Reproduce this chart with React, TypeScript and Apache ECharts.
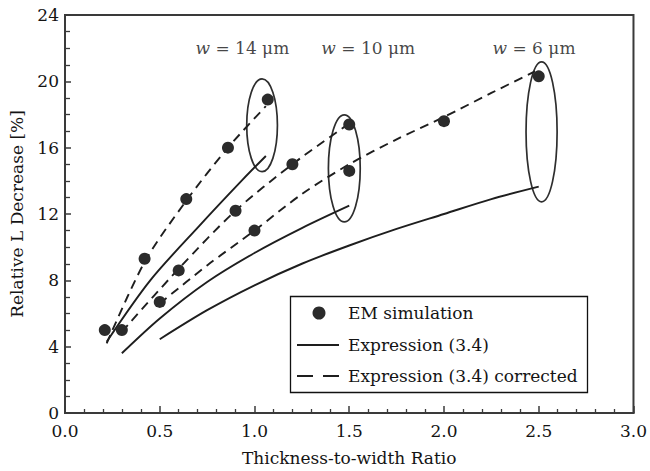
import React, { useEffect, useRef } from "react";
import * as echarts from "echarts";

// EM simulation results, one list per line width [thickness/width, relative L decrease %]
const simW14: number[][] = [[0.21, 5.0], [0.42, 9.3], [0.64, 12.9], [0.86, 16.0], [1.07, 18.9]];
const simW10: number[][] = [[0.3, 5.0], [0.6, 8.6], [0.9, 12.2], [1.2, 15.0], [1.5, 17.4]];
const simW6: number[][] = [[0.5, 6.7], [1.0, 11.0], [1.5, 14.6], [2.0, 17.6], [2.5, 20.3]];

// Expression (3.4)
const expr14: number[][] = [[0.22, 4.3], [0.45, 8.0], [0.71, 11.3], [0.94, 14.1], [1.06, 15.5]];
const expr10: number[][] = [[0.3, 3.6], [0.5, 5.7], [0.75, 7.9], [1.0, 9.65], [1.25, 11.15], [1.5, 12.5]];
const expr6: number[][] = [
  [0.5, 4.45], [0.75, 6.2], [1.0, 7.7], [1.25, 9.0], [1.5, 10.1],
  [1.75, 11.1], [2.0, 12.0], [2.25, 12.9], [2.5, 13.65],
];

// Expression (3.4) corrected
const corr14: number[][] = [[0.22, 4.2], [0.42, 9.1], [0.64, 12.8], [0.86, 16.0], [1.06, 18.5]];
const corr10: number[][] = [[0.3, 4.9], [0.6, 8.7], [0.9, 12.2], [1.2, 15.0], [1.48, 17.3]];
const corr6: number[][] = [
  [0.5, 6.6], [0.75, 8.9], [1.0, 11.0], [1.25, 13.2], [1.5, 15.0],
  [1.75, 16.5], [2.0, 17.85], [2.25, 19.3], [2.48, 20.6],
];

// Ellipses grouping the end of each width family: [cx, cy, rx, ry] in data units
const groupEllipses: number[][] = [
  [1.04, 17.35, 0.081, 2.8],
  [1.474, 14.75, 0.084, 3.23],
  [2.515, 16.95, 0.082, 4.22],
];

// Width labels above each family
const widthLabels = ["14", "10", "6"];
const widthLabelPos: number[][] = [[0.936, 22.0], [1.6, 22.0], [2.475, 22.0]];

const SIM = "EM simulation";
const EXPR = "Expression (3.4)";
const CORR = "Expression (3.4) corrected";
const legendNames = [SIM, EXPR, CORR];

const FONT = "DejaVu Serif";
const INK = "#141414";
const AXIS = "#3a3a3a";
const LINE = "#1e1e1e";
const DOT = "#2b2b2b";
const DASH = [9, 6];

export default function App() {
  const ref = useRef<HTMLDivElement>(null);

  useEffect(() => {
    document.body.style.margin = "0";
    if (!ref.current) return;
    const chart = echarts.init(ref.current, null, { renderer: "svg" });

    const lineSeries = (name: string, data: number[][], dashed: boolean) => ({
      type: "line",
      name,
      data,
      symbol: "none",
      smooth: 0.3,
      lineStyle: { color: LINE, width: 1.9, type: dashed ? DASH : "solid" },
      itemStyle: { color: LINE },
      z: 3,
    });

    // Boxed key in the lower right of the plot
    const lx = 290;
    const ly = 296;
    const rowY = [313, 345, 376];
    const key: any[] = [
      {
        type: "rect",
        shape: { x: lx + 0.5, y: ly + 0.5, width: 297, height: 96 },
        style: { fill: "#fff", stroke: "#111", lineWidth: 1.3 },
      },
      { type: "circle", shape: { cx: 319, cy: rowY[0], r: 6.5 }, style: { fill: DOT } },
      {
        type: "line",
        shape: { x1: 297, y1: rowY[1], x2: 339, y2: rowY[1] },
        style: { stroke: LINE, lineWidth: 1.9 },
      },
      {
        type: "line",
        shape: { x1: 297, y1: rowY[2], x2: 339, y2: rowY[2] },
        style: { stroke: LINE, lineWidth: 1.9, lineDash: [16, 10] },
      },
      ...legendNames.map((n, i) => ({
        type: "text",
        x: 348,
        y: rowY[i],
        style: {
          text: n,
          fill: INK,
          font: `17px "${FONT}"`,
          verticalAlign: "middle",
          align: "left",
        },
      })),
    ];

    chart.setOption({
      animation: false,
      textStyle: { fontFamily: FONT, color: INK },
      grid: {
        left: 64,
        right: 13,
        top: 15,
        bottom: 58,
        show: true,
        borderColor: AXIS,
        borderWidth: 2,
      },
      xAxis: {
        type: "value",
        min: 0,
        max: 3,
        interval: 0.5,
        name: "Thickness-to-width Ratio",
        nameLocation: "middle",
        nameGap: 36,
        nameTextStyle: { fontSize: 17, color: INK, fontFamily: FONT },
        axisLine: { lineStyle: { color: AXIS, width: 2 } },
        axisTick: { inside: true, length: 7, lineStyle: { color: AXIS, width: 1.5 } },
        minorTick: { show: true, splitNumber: 5, length: 4, lineStyle: { color: AXIS, width: 1.3 } },
        axisLabel: {
          fontSize: 17,
          color: INK,
          fontFamily: FONT,
          margin: 9,
          formatter: (v: number) => v.toFixed(1),
        },
        splitLine: { show: false },
      },
      yAxis: {
        type: "value",
        min: 0,
        max: 24,
        interval: 4,
        name: "Relative L Decrease [%]",
        nameLocation: "middle",
        nameGap: 40,
        nameTextStyle: { fontSize: 17, color: INK, fontFamily: FONT },
        axisLine: { lineStyle: { color: AXIS, width: 2 } },
        axisTick: { inside: true, length: 6, lineStyle: { color: AXIS, width: 1.5 } },
        minorTick: { show: true, splitNumber: 4, length: 5, lineStyle: { color: AXIS, width: 1.3 } },
        axisLabel: { fontSize: 17, color: INK, fontFamily: FONT, margin: 6 },
        splitLine: { show: false },
      },
      graphic: { elements: key.map((el) => ({ ...el, z: 100 })) },
      series: [
        lineSeries(EXPR, expr14, false),
        lineSeries(EXPR, expr10, false),
        lineSeries(EXPR, expr6, false),
        lineSeries(CORR, corr14, true),
        lineSeries(CORR, corr10, true),
        lineSeries(CORR, corr6, true),
        {
          type: "scatter",
          name: SIM,
          data: [...simW14, ...simW10, ...simW6],
          symbol: "circle",
          symbolSize: 12,
          itemStyle: { color: DOT, opacity: 1 },
          z: 4,
        },
        {
          type: "custom",
          name: "groups",
          data: groupEllipses,
          clip: false,
          z: 2,
          renderItem: (_params: any, api: any) => {
            const c = api.coord([api.value(0), api.value(1)]);
            const e = api.coord([api.value(0) + api.value(2), api.value(1) + api.value(3)]);
            return {
              type: "ellipse",
              shape: { cx: c[0], cy: c[1], rx: e[0] - c[0], ry: c[1] - e[1] },
              style: { fill: "none", stroke: "#2e2e2e", lineWidth: 1.7 },
            };
          },
        },
        {
          type: "scatter",
          name: "widths",
          symbolSize: 1,
          itemStyle: { color: "transparent" },
          data: widthLabels.map((w, i) => ({ name: w, value: widthLabelPos[i] })),
          label: {
            show: true,
            position: "inside",
            fontSize: 17,
            color: INK,
            fontFamily: FONT,
            formatter: (p: any) => `{i|w} = ${p.name} μm`,
            rich: { i: { fontStyle: "italic", fontSize: 17, fontFamily: FONT, color: INK } },
          },
          z: 5,
        },
      ],
    });

    return () => chart.dispose();
  }, []);

  return <div ref={ref} style={{ width: 650, height: 471 }} />;
}
